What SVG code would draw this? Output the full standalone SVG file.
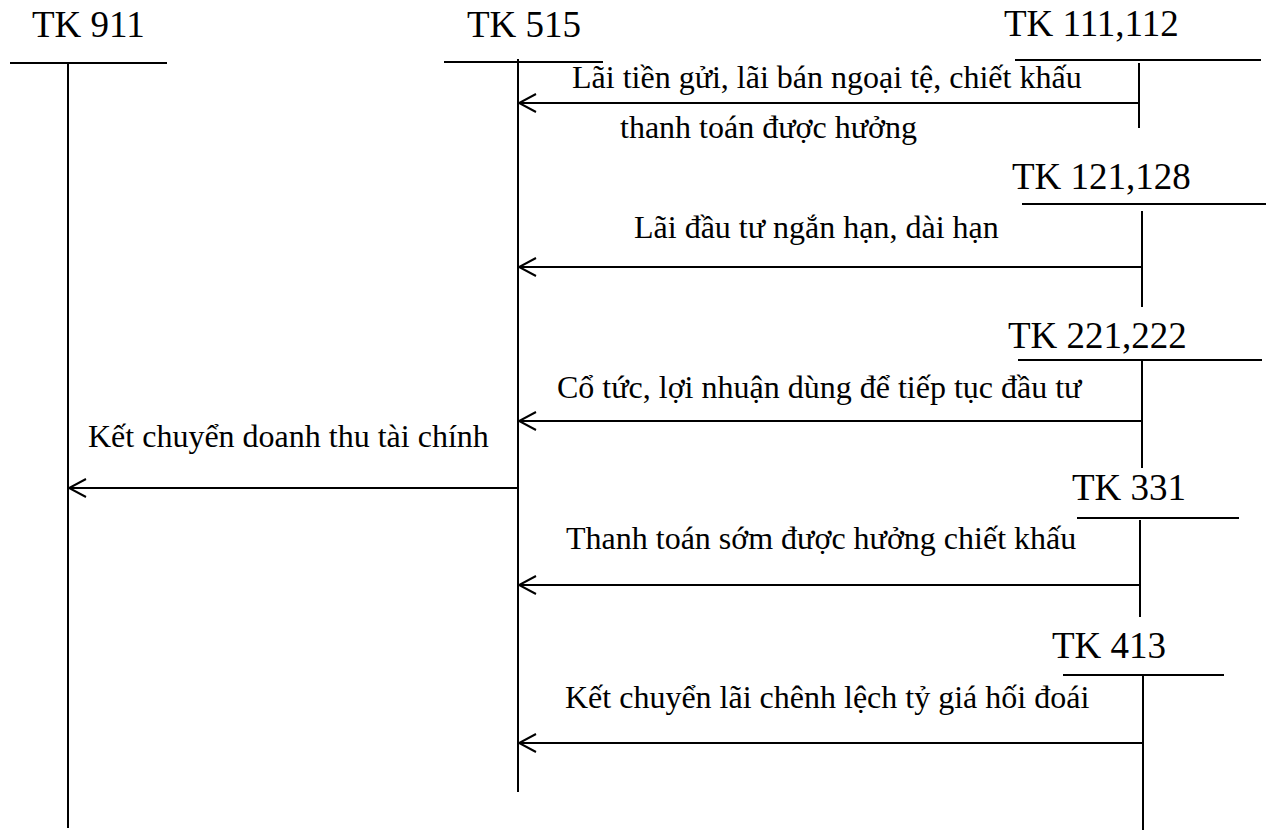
<svg xmlns="http://www.w3.org/2000/svg" width="1271" height="837" viewBox="0 0 1271 837">
  <style>
    .title { font-family: "Liberation Serif", "Times New Roman", serif; font-size: 37px; fill: #000; }
    .label { font-family: "Liberation Serif", "Times New Roman", serif; font-size: 32px; fill: #000; }
    .tline { stroke: #000; stroke-width: 2; fill: none; }
    .flow { stroke: #000; stroke-width: 2; fill: none; marker-end: url(#open-arrow); }
  </style>
  <defs>
    <!-- open V arrowhead, tip at the end of the line -->
    <marker id="open-arrow" markerUnits="userSpaceOnUse" markerWidth="22" markerHeight="24" viewBox="-20 -12 22 24" refX="0" refY="0" orient="auto">
      <path d="M-17,-9 L0,0 L-17,9" stroke="#000" stroke-width="2" fill="none"/>
    </marker>
  </defs>
  <rect width="1271" height="837" fill="#fff"/>

  <!-- T-accounts -->
  <g id="tk911">
    <text class="title" x="32" y="37">TK 911</text>
    <line class="tline" x1="10" y1="63" x2="167" y2="63"/>
    <line class="tline" x1="68" y1="63" x2="68" y2="828"/>
  </g>
  <g id="tk515">
    <text class="title" x="467" y="37">TK 515</text>
    <line class="tline" x1="444" y1="62" x2="603" y2="62"/>
    <line class="tline" x1="518" y1="59" x2="518" y2="792"/>
  </g>
  <g id="tk111-112">
    <text class="title" x="1004" y="36">TK 111,112</text>
    <line class="tline" x1="1015" y1="60" x2="1261" y2="60"/>
    <line class="tline" x1="1139" y1="63" x2="1139" y2="128"/>
  </g>
  <g id="tk121-128">
    <text class="title" x="1012" y="189">TK 121,128</text>
    <line class="tline" x1="1022" y1="204" x2="1266" y2="204"/>
    <line class="tline" x1="1142" y1="211" x2="1142" y2="307"/>
  </g>
  <g id="tk221-222">
    <text class="title" x="1008" y="348">TK 221,222</text>
    <line class="tline" x1="1018" y1="360" x2="1262" y2="360"/>
    <line class="tline" x1="1142" y1="360" x2="1142" y2="468"/>
  </g>
  <g id="tk331">
    <text class="title" x="1072" y="500">TK 331</text>
    <line class="tline" x1="1077" y1="518" x2="1239" y2="518"/>
    <line class="tline" x1="1140" y1="520" x2="1140" y2="617"/>
  </g>
  <g id="tk413">
    <text class="title" x="1052" y="658">TK 413</text>
    <line class="tline" x1="1063" y1="675" x2="1224" y2="675"/>
    <line class="tline" x1="1143" y1="675" x2="1143" y2="830"/>
  </g>

  <!-- Entries -->
  <g id="connectors">
    <line class="flow" x1="1139" y1="103" x2="519" y2="103"/>
    <text class="label" x="572" y="88">Lãi tiền gửi, lãi bán ngoại tệ, chiết khấu</text>
    <text class="label" x="620" y="138">thanh toán được hưởng</text>

    <line class="flow" x1="1142" y1="267" x2="519" y2="267"/>
    <text class="label" x="634" y="238">Lãi đầu tư ngắn hạn, dài hạn</text>

    <line class="flow" x1="1142" y1="421" x2="519" y2="421"/>
    <text class="label" x="557" y="398">Cổ tức, lợi nhuận dùng để tiếp tục đầu tư</text>

    <line class="flow" x1="518" y1="488" x2="69" y2="488"/>
    <text class="label" x="88" y="447">Kết chuyển doanh thu tài chính</text>

    <line class="flow" x1="1140" y1="585" x2="519" y2="585"/>
    <text class="label" x="566" y="549">Thanh toán sớm được hưởng chiết khấu</text>

    <line class="flow" x1="1143" y1="743" x2="519" y2="743"/>
    <text class="label" x="565" y="708">Kết chuyển lãi chênh lệch tỷ giá hối đoái</text>
  </g>
</svg>
